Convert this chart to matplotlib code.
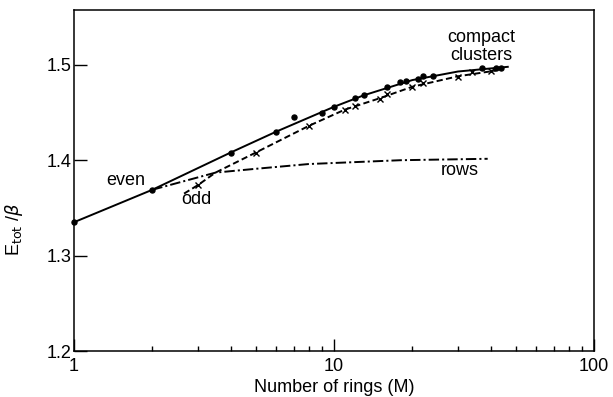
import matplotlib
matplotlib.use('Agg')
import matplotlib.pyplot as plt
from matplotlib.ticker import LogLocator, NullFormatter, FixedLocator

plt.rcParams['font.family'] = ['Liberation Sans', 'DejaVu Sans']
plt.rcParams['lines.scale_dashes'] = False

# compact clusters (dots)
compact_m = [1, 2, 4, 6, 7, 9, 10, 12, 13, 16, 18, 19, 21, 22, 24, 37, 42, 44]
compact_e = [1.335, 1.369, 1.408, 1.430, 1.445, 1.450, 1.456, 1.465, 1.468,
             1.477, 1.482, 1.483, 1.485, 1.488, 1.488, 1.497, 1.497, 1.497]

# smooth curve through the compact clusters (even)
even_curve_m = [1, 2, 4, 6, 10, 13, 20, 30, 47]
even_curve_e = [1.335, 1.369, 1.408, 1.430, 1.456, 1.468, 1.484, 1.493, 1.498]

# odd clusters (crosses)
odd_m = [3, 5, 8, 11, 12, 15, 16, 20, 22, 30, 34, 40]
odd_e = [1.374, 1.408, 1.436, 1.453, 1.457, 1.4645, 1.469, 1.477, 1.4806,
         1.4876, 1.4923, 1.494]

odd_curve_m = [2.65, 3, 3.5, 5, 8, 11, 15, 20, 30, 42]
odd_curve_e = [1.365, 1.374, 1.387, 1.408, 1.436, 1.453, 1.465, 1.477, 1.488, 1.494]

# rows
rows_m = [2, 3.5, 5, 8, 18, 39]
rows_e = [1.369, 1.387, 1.391, 1.396, 1.400, 1.4015]

fig = plt.figure(figsize=(6.13, 3.97), dpi=100)
ax = fig.add_axes([74 / 613, 46 / 397, 520 / 613, 341.5 / 397])

ax.plot(even_curve_m, even_curve_e, color='black', lw=1.4, solid_capstyle='butt')
ax.plot(odd_curve_m, odd_curve_e, color='black', lw=1.4, linestyle=(0, (4.5, 2.4)))
ax.plot(rows_m, rows_e, color='black', lw=1.4, linestyle=(0, (7.5, 2.2, 1.5, 2.2)))
ax.plot(compact_m, compact_e, 'o', color='black', markersize=3.6, clip_on=False)
ax.plot(odd_m, odd_e, 'x', color='black', markersize=4, mew=1.0)

ax.set_xscale('log')
ax.set_xlim(1, 100)
ax.set_ylim(1.2, 1.558)

ax.xaxis.set_major_locator(FixedLocator([1, 10, 100]))
ax.set_xticklabels(['1', '10', '100'])
ax.xaxis.set_minor_locator(LogLocator(base=10, subs=range(2, 10)))
ax.xaxis.set_minor_formatter(NullFormatter())
ax.set_yticks([1.2, 1.3, 1.4, 1.5])
ax.set_yticklabels(['1.2', '1.3', '1.4', '1.5'])

ax.tick_params(axis='x', which='major', direction='in', length=9, width=1, pad=5, labelsize=13)
ax.tick_params(axis='x', which='minor', direction='in', length=3.5, width=1)
ax.tick_params(axis='y', which='major', direction='in', length=9, width=1, pad=1.5, labelsize=13)
for s in ax.spines.values():
    s.set_linewidth(1.1)

ax.set_xlabel('Number of rings (M)', fontsize=13)
ax.xaxis.set_label_coords(0.5, -0.082)
ax.set_ylabel(r'E$_{\rm tot}$ /$\beta$', fontsize=13)
ax.yaxis.set_label_coords(-0.094, 0.355)

ax.text(1.58, 1.379, 'even', fontsize=13, ha='center', va='center')
ax.text(2.96, 1.359, 'odd', fontsize=13, ha='center', va='center')
ax.text(30.5, 1.389, 'rows', fontsize=13, ha='center', va='center')
ax.text(37, 1.519, 'compact\nclusters', fontsize=13, ha='center', va='center',
        linespacing=1.12)

fig.savefig('out.png', dpi=100)
